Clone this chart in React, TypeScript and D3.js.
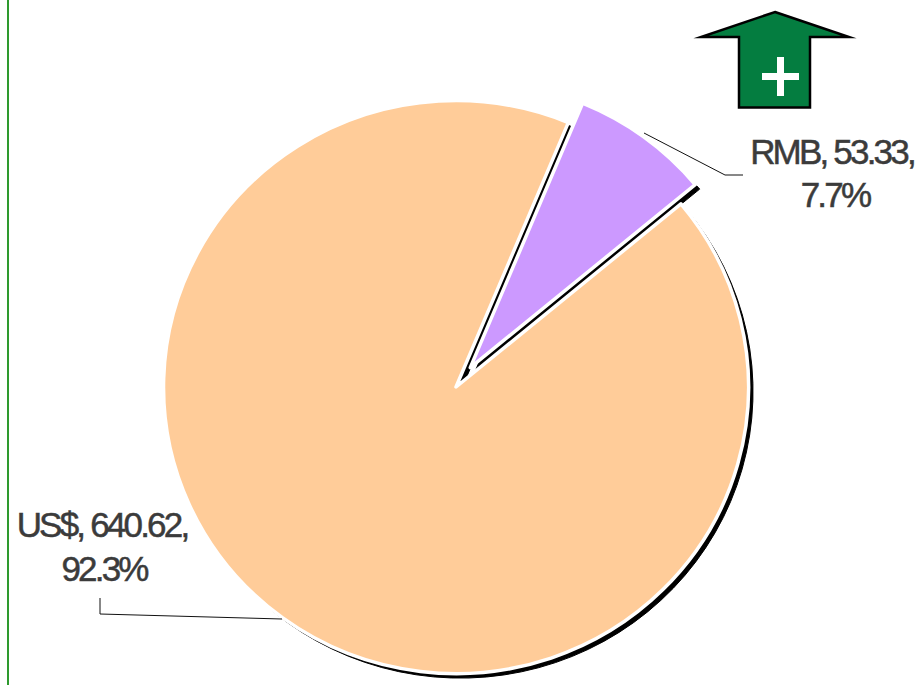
import React from "react";
import * as d3 from "d3";

const categories = ["RMB", "US$"];
const seriesValues = [53.33, 640.62];
const percentLabels = ["7.7%", "92.3%"];
const colors = ["#CC99FF", "#FFCC99"];

const START = (22.6 * Math.PI) / 180;

export default function App() {
  const cx = 456, cy = 387, rx = 292.5, ry = 286.5;
  const pie = d3.pie<number>().sort(null).startAngle(START).endAngle(START + 2 * Math.PI);
  const arcs = pie(seriesValues);
  const arc = d3.arc<d3.PieArcDatum<number>>().innerRadius(0).outerRadius(1);
  const offsets = arcs.map((a, i) => {
    if (i !== 0) return [0, 0];
    const m = (a.startAngle + a.endAngle) / 2;
    return [Math.sin(m) * 24, -Math.cos(m) * 24];
  });
  const line = d3.line();
  const font = "'Liberation Sans', Arial, sans-serif";
  return (
    <svg width={924} height={685} style={{ position: "absolute", left: 0, top: 0, background: "#fff" }}>
      <line x1={8} y1={0} x2={8} y2={685} stroke="#2E9A2E" strokeWidth={2} />
      <g transform={`translate(${cx},${cy})`}>
        {arcs.map((a, i) => (
          <path key={"s" + i} d={arc(a) ?? ""} fill="#000" vectorEffect="non-scaling-stroke" stroke="#000" strokeWidth={1}
            transform={`translate(${offsets[i][0] + 4.5},${offsets[i][1] + 4.5}) scale(${rx},${ry})`} />
        ))}
        {arcs.slice().reverse().map((a) => {
          const i = a.index;
          return (
            <path key={"p" + i} d={arc(a) ?? ""} fill={colors[i]} stroke="#fff" strokeWidth={3.5} strokeLinejoin="round"
              vectorEffect="non-scaling-stroke"
              transform={`translate(${offsets[i][0]},${offsets[i][1]}) scale(${rx},${ry})`} />
          );
        })}
      </g>
      <path d={line([[644, 133], [725, 175], [743, 175]]) ?? ""} fill="none" stroke="#111" strokeWidth={1} />
      <path d={line([[100, 598], [100, 614], [282, 619]]) ?? ""} fill="none" stroke="#111" strokeWidth={1} />
      <path d={line([[775, 12], [849, 37], [810, 37], [810, 107.5], [739, 107.5], [739, 37], [701, 37]])! + "Z"}
        fill="#047D40" stroke="#000" strokeWidth={2.5} strokeLinejoin="miter" strokeMiterlimit={10} />
      <path d="M780.5 57V96M762 76.500H799" stroke="#fff" strokeWidth={7} fill="none" />
      <g fontFamily={font} fontSize={35} fill="#3B3B3B" stroke="#3B3B3B" strokeWidth={0.5} textAnchor="middle" letterSpacing={-2.8}>
        <text x={832} y={164}>{`${categories[0]}, ${seriesValues[0]},`}</text>
        <text x={835} y={207}>{percentLabels[0]}</text>
        <text x={102} y={537}>{`${categories[1]}, ${seriesValues[1]},`}</text>
        <text x={104} y={581}>{percentLabels[1]}</text>
      </g>
    </svg>
  );
}
